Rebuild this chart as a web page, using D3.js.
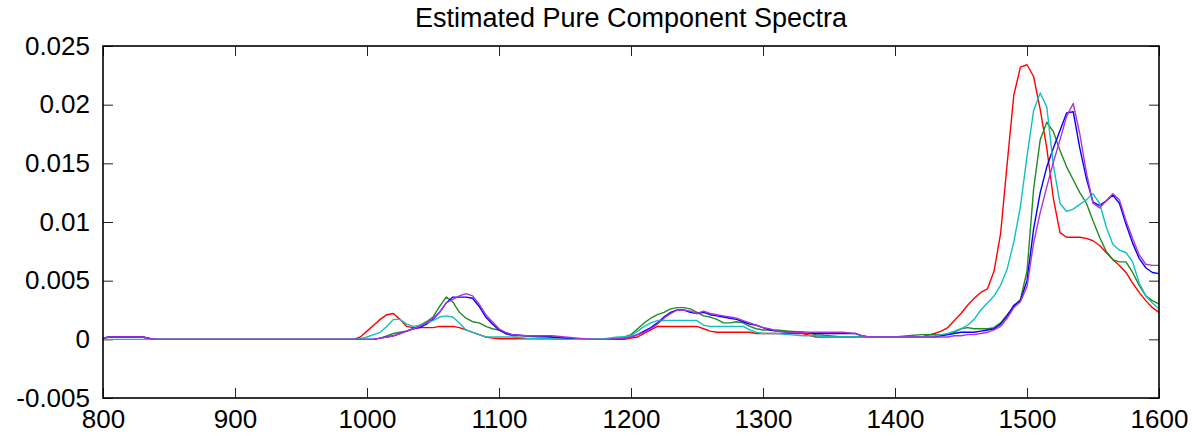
<!DOCTYPE html>
<html>
<head>
<meta charset="utf-8">
<script src="https://cdn.jsdelivr.net/npm/d3@7"></script>
<style>
  body { margin: 0; background: #fff; }
  svg text { font-family: "Liberation Sans", Arial, sans-serif; fill: #000; }
</style>
</head>
<body>
<div id="chart"></div>
<script>
// Wavenumber grid (shared by all components)
const wavenumbers = [800, 805, 830, 836, 840, 990, 995, 1000, 1005, 1010, 1015, 1020, 1025, 1030, 1035, 1040, 1045, 1050, 1055, 1060,
  1065, 1070, 1075, 1080, 1085, 1090, 1095, 1100, 1105, 1110, 1120, 1130, 1140, 1150, 1160, 1170, 1180, 1190, 1195, 1200,
  1205, 1210, 1215, 1220, 1225, 1230, 1235, 1240, 1245, 1250, 1255, 1260, 1265, 1270, 1275, 1280, 1285, 1290, 1295, 1300,
  1305, 1310, 1320, 1330, 1340, 1350, 1360, 1370, 1375, 1380, 1400, 1410, 1420, 1430, 1435, 1440, 1445, 1450, 1455, 1460,
  1465, 1470, 1475, 1480, 1485, 1490, 1495, 1500, 1505, 1510, 1515, 1520, 1525, 1530, 1535, 1540, 1545, 1550, 1555, 1560,
  1565, 1570, 1575, 1580, 1585, 1590, 1595, 1600];

// component values, in units of 1e-4
const redVals = [1, 2, 2, 0.5, 0, 0, 2, 7, 12, 17, 21, 22, 17, 11, 10, 10, 10, 10, 11, 11,
  11, 10, 8, 6, 4, 2, 1, 0.5, 0.5, 0.5, 0.5, 0.5, 0.5, 0, 0, 0, 0, 0, 0, 1,
  2, 5, 8, 11, 11, 11, 11, 11, 11, 11, 9, 7, 6, 6, 6, 6, 6, 6, 5, 5,
  5, 5, 5, 5, 2, 2, 2, 2, 2, 2, 2, 2, 2, 5, 7, 10, 16, 22, 29, 35,
  40, 43, 58, 90, 150, 208, 232, 234, 224, 196, 163, 120, 91, 87, 87, 87, 86, 84, 80, 74,
  68, 63, 57, 48, 40, 33, 27, 23];
const cyanVals = [0, 0, 0, 0, 0, 0, 0.5, 2, 4, 6, 11, 17, 17, 13, 11, 12, 14, 16, 19, 20,
  19, 14, 8, 6, 4, 2, 2, 2, 2, 2, 1, 0.5, 0.5, 0, 0, 0, 0.5, 2, 2, 3,
  7, 11, 14, 16, 16, 16, 16, 16, 16, 16, 12, 11, 11, 11, 11, 11, 11, 8, 6, 5,
  5, 5, 4, 3, 3, 2, 2, 2, 2, 2, 2, 2, 2, 3, 4, 5, 7, 9, 12, 17,
  25, 31, 37, 46, 60, 83, 113, 156, 195, 210, 198, 148, 116, 109, 111, 115, 119, 124, 116, 96,
  81, 76, 74, 66, 48, 37, 31, 26];
const greenVals = [1, 2, 2, 0.5, 0, 0, 0, 0, 0, 1, 3, 5, 6, 7, 9, 12, 15, 19, 28, 36,
  32, 23, 18, 15, 14, 11, 9, 8, 5, 3, 3, 2, 2, 1, 0, 0, 0, 1, 2, 4,
  9, 14, 18, 21, 23, 26, 27, 27, 26, 23, 20, 19, 17, 14, 14, 15, 14, 11, 9, 8,
  8, 8, 7, 6, 4, 3, 2, 2, 2, 2, 2, 3, 4, 4, 4, 4, 6, 9, 10, 9,
  9, 9, 10, 14, 21, 28, 34, 58, 128, 170, 185, 177, 161, 147, 136, 125, 116, 101, 87, 75,
  68, 66, 66, 57, 46, 37, 33, 30];
const blueVals = [1, 2, 2, 0.5, 0, 0, 0, 0, 0, 1, 2, 3, 5, 7, 9, 10, 13, 17, 23, 31,
  36, 36, 36, 35, 28, 19, 13, 8, 5, 4, 3, 3, 2, 1, 0, 0, 0, 0, 1, 2,
  4, 7, 10, 14, 19, 23, 25, 25, 23, 22, 23, 21, 20, 19, 18, 17, 15, 13, 12, 10,
  8, 7, 6, 6, 5, 5, 5, 5, 3, 2, 2, 2, 2, 2, 3, 4, 5, 6, 6, 6,
  7, 8, 9, 13, 20, 29, 33, 50, 94, 125, 147, 163, 178, 193, 194, 163, 137, 117, 114, 118,
  123, 116, 98, 82, 69, 61, 57, 56];
const purpleVals = [1, 2, 2, 0.5, 0, 0, 0, 0, 0, 1, 2, 3, 5, 7, 9, 11, 14, 18, 23, 31,
  34, 37, 39, 37, 30, 21, 15, 9, 6, 4, 3, 3, 3, 2, 1, 0, 0, 0.5, 1, 2,
  4, 6, 9, 13, 18, 22, 25, 25, 24, 22, 24, 22, 21, 20, 19, 18, 16, 14, 12, 10,
  9, 7, 6, 6, 6, 6, 6, 5, 3, 2, 2, 2, 2, 2, 2, 2, 3, 3, 4, 4,
  5, 6, 8, 11, 18, 27, 32, 45, 82, 108, 130, 151, 170, 190, 201, 175, 142, 116, 112, 118,
  124, 119, 101, 86, 72, 64, 63, 63];

const seriesNames = ["red", "green", "blue", "cyan", "purple"];
const seriesColors = ["#ff0000", "#228b22", "#0000ff", "#10c0c0", "#b030e0"];
const seriesVals = [redVals, greenVals, blueVals, cyanVals, purpleVals];

const xTicks = [800, 900, 1000, 1100, 1200, 1300, 1400, 1500, 1600];
const yTicks = [-0.005, 0, 0.005, 0.01, 0.015, 0.02, 0.025];
const yTickLabels = ["-0.005", "0", "0.005", "0.01", "0.015", "0.02", "0.025"];

// Set up the dimensions and margins of the plot
const margin = { top: 46, right: 33, bottom: 38, left: 103 };
const width = 1192 - margin.left - margin.right;
const height = 436 - margin.top - margin.bottom;

const svg = d3.select("#chart")
  .append("svg")
  .attr("width", width + margin.left + margin.right)
  .attr("height", height + margin.top + margin.bottom)
  .append("g")
  .attr("transform", `translate(${margin.left},${margin.top})`);

const x = d3.scaleLinear().domain([800, 1600]).range([0, width]);
const y = d3.scaleLinear().domain([-0.005, 0.025]).range([height, 0]);

// Axes, ticks pointing inward on all four sides
svg.append("g")
  .attr("transform", `translate(0,${height})`)
  .call(d3.axisBottom(x).tickValues(xTicks).tickSizeInner(-10).tickSizeOuter(0).tickPadding(12).tickFormat(d3.format("d")));
svg.append("g")
  .call(d3.axisLeft(y).tickValues(yTicks).tickSizeInner(-10).tickSizeOuter(0).tickPadding(13)
    .tickFormat((d, i) => yTickLabels[i]));
svg.append("g")
  .call(d3.axisTop(x).tickValues(xTicks).tickSizeInner(-10).tickSizeOuter(0).tickFormat(""));
svg.append("g")
  .attr("transform", `translate(${width},0)`)
  .call(d3.axisRight(y).tickValues(yTicks).tickSizeInner(-10).tickSizeOuter(0).tickFormat(""));

svg.selectAll(".domain").remove();
svg.selectAll(".tick line").attr("stroke", "#222").attr("stroke-width", 1);
svg.selectAll(".tick text").attr("font-size", 26).attr("font-family", "Liberation Sans, Arial, sans-serif");

// Spectra
const line = d3.line()
  .x((d, i) => x(wavenumbers[i]))
  .y(d => y(d * 1e-4));

svg.selectAll(".spectrum")
  .data(seriesVals)
  .enter()
  .append("path")
  .attr("class", "spectrum")
  .attr("fill", "none")
  .attr("stroke", (d, i) => seriesColors[i])
  .attr("stroke-width", 1.4)
  .attr("stroke-linejoin", "round")
  .attr("d", line);

// Frame
svg.append("rect")
  .attr("width", width)
  .attr("height", height)
  .attr("fill", "none")
  .attr("stroke", "#000")
  .attr("stroke-width", 1.6);

// Title
svg.append("text")
  .attr("x", width / 2)
  .attr("y", -19)
  .attr("text-anchor", "middle")
  .attr("font-size", 27)
  .text("Estimated Pure Component Spectra");
</script>
</body>
</html>
